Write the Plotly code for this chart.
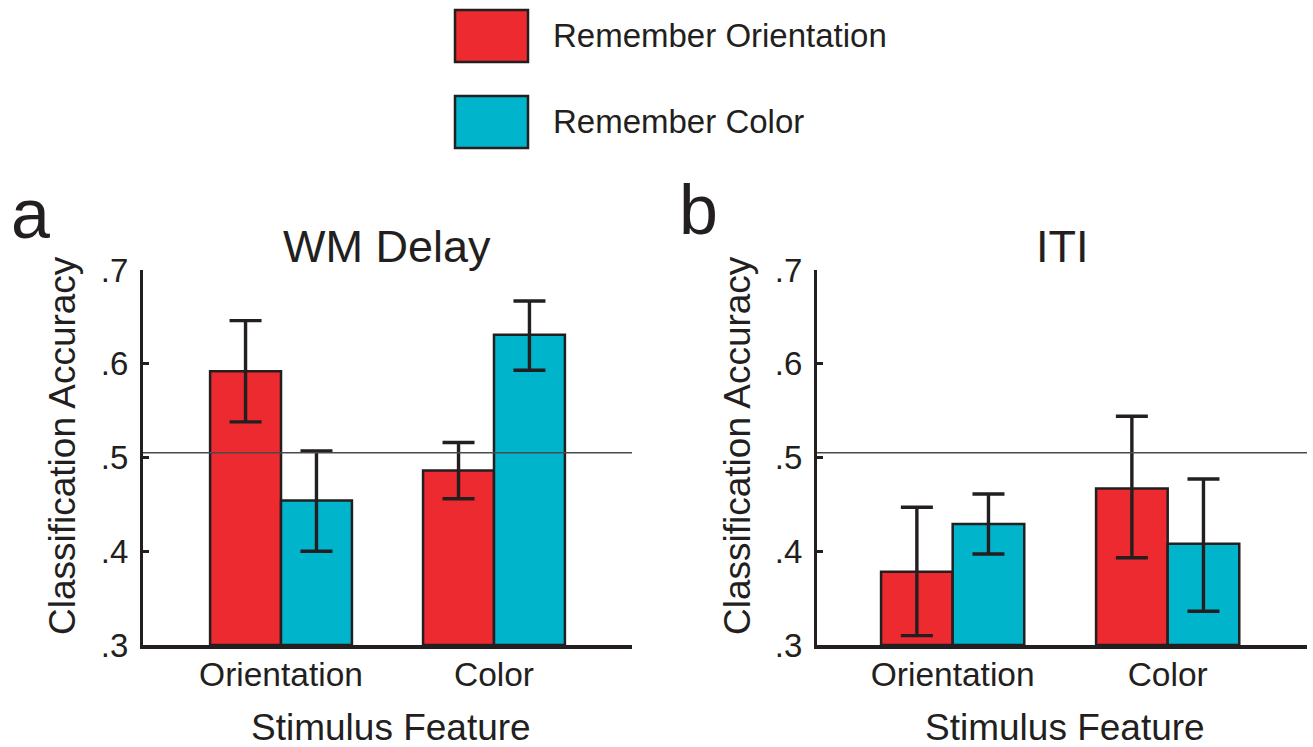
import plotly.graph_objects as go

# ---------------- data ----------------
categories = ["Orientation", "Color"]
series_names = ["Remember Orientation", "Remember Color"]

# Panel a: WM Delay
wm_orient_mean = [0.592, 0.486]
wm_orient_hi = [0.646, 0.516]
wm_orient_lo = [0.538, 0.456]
wm_color_mean = [0.454, 0.631]
wm_color_hi = [0.507, 0.667]
wm_color_lo = [0.400, 0.593]

# Panel b: ITI
iti_orient_mean = [0.378, 0.467]
iti_orient_hi = [0.447, 0.544]
iti_orient_lo = [0.310, 0.393]
iti_color_mean = [0.429, 0.408]
iti_color_hi = [0.461, 0.477]
iti_color_lo = [0.397, 0.336]

chance_level = 0.505
y_ticks = [0.3, 0.4, 0.5, 0.6, 0.7]
y_tick_labels = [".3", ".4", ".5", ".6", ".7"]
panel_titles = ["WM Delay", "ITI"]
panel_letters = ["a", "b"]
x_title = "Stimulus Feature"
y_title = "Classification Accuracy"

# ---------------- style ----------------
RED = "#EC2A30"
CYAN = "#00B4CC"
INK = "#231F20"
FONT = "Liberation Sans, Arial, Helvetica, sans-serif"
W, H = 1313, 747

fig = go.Figure()
xpos = list(range(len(categories)))


def add_bars(mean, hi, lo, color, name, xa, ya):
    fig.add_trace(go.Bar(
        x=xpos, y=[m - 0.3 for m in mean], base=0.3,
        name=name, marker=dict(color=color, line=dict(color=INK, width=2.5)),
        error_y=dict(type="data", symmetric=False,
                     array=[h - m for h, m in zip(hi, mean)],
                     arrayminus=[m - l for m, l in zip(mean, lo)],
                     color=INK, thickness=3.4, width=16),
        xaxis=xa, yaxis=ya, showlegend=False, offsetgroup=name,
    ))


add_bars(wm_orient_mean, wm_orient_hi, wm_orient_lo, RED, series_names[0], "x", "y")
add_bars(wm_color_mean, wm_color_hi, wm_color_lo, CYAN, series_names[1], "x", "y")
add_bars(iti_orient_mean, iti_orient_hi, iti_orient_lo, RED, series_names[0], "x2", "y2")
add_bars(iti_color_mean, iti_color_hi, iti_color_lo, CYAN, series_names[1], "x2", "y2")


def px_x(v):
    return v / W


def px_y(v):
    return 1 - v / H


ydom = [px_y(645), px_y(270)]
xdom1 = [px_x(143), px_x(632)]
xdom2 = [px_x(817), px_x(1307)]

yaxis_common = dict(
    range=[0.3, 0.7], tickvals=y_ticks, ticktext=y_tick_labels,
    showline=True, linecolor=INK, linewidth=3, ticks="inside", ticklen=6,
    tickwidth=2.5, tickcolor=INK, showgrid=False, zeroline=False,
    tickfont=dict(size=33, color=INK, family=FONT), ticklabelstandoff=5,
    domain=ydom,
)
xaxis_common = dict(
    tickvals=xpos, ticktext=categories, showline=True, linecolor=INK,
    linewidth=3.5, ticks="", showgrid=False, zeroline=False,
    tickfont=dict(size=33.5, color=INK, family=FONT), ticklabelstandoff=-3,
)

fig.update_layout(
    width=W, height=H, margin=dict(l=0, r=0, t=0, b=0, autoexpand=False),
    paper_bgcolor="white", plot_bgcolor="white",
    barmode="group", bargap=0.334, bargroupgap=0,
    font=dict(family=FONT, color=INK),
    xaxis=dict(xaxis_common, domain=xdom1, range=[-0.648, 1.648], anchor="y"),
    yaxis=dict(yaxis_common, anchor="x"),
    xaxis2=dict(xaxis_common, domain=xdom2, range=[-0.631, 1.648], anchor="y2"),
    yaxis2=dict(yaxis_common, anchor="x2"),
)

shapes = []
for xr, yr in [("x domain", "y"), ("x2 domain", "y2")]:
    shapes.append(dict(type="line", xref=xr, yref=yr, x0=0, x1=1,
                       y0=chance_level, y1=chance_level,
                       line=dict(color="#4a4a4a", width=1.6), layer="above"))

# legend boxes
for (y0, y1), col in zip([(10, 62), (96, 148)], [RED, CYAN]):
    shapes.append(dict(type="rect", xref="paper", yref="paper",
                       x0=px_x(455), x1=px_x(528), y0=px_y(y1), y1=px_y(y0),
                       fillcolor=col, line=dict(color=INK, width=2.5)))
fig.update_layout(shapes=shapes)

ann = []
# legend labels
for name, yc in zip(series_names, [35, 121]):
    ann.append(dict(text=name, x=px_x(551), y=px_y(yc), xref="paper", yref="paper",
                    xanchor="left", yanchor="middle", showarrow=False,
                    font=dict(size=33, color=INK, family=FONT)))

panels = [
    dict(title=panel_titles[0], tx=387, letter=panel_letters[0], lx=30, ly=214, ytx=62, xtx=391),
    dict(title=panel_titles[1], tx=1062, letter=panel_letters[1], lx=698, ly=210, ytx=737, xtx=1065),
]
for p in panels:
    ann.append(dict(text=p["title"], x=px_x(p["tx"]), y=px_y(246), xref="paper", yref="paper",
                    xanchor="center", yanchor="middle", showarrow=False,
                    font=dict(size=45, color=INK, family=FONT)))
    ann.append(dict(text=p["letter"], x=px_x(p["lx"]), y=px_y(p["ly"]), xref="paper", yref="paper",
                    xanchor="center", yanchor="middle", showarrow=False,
                    font=dict(size=70, color=INK, family=FONT)))
    ann.append(dict(text=y_title, x=px_x(p["ytx"]), y=px_y(446), xref="paper", yref="paper",
                    xanchor="center", yanchor="middle", showarrow=False, textangle=-90,
                    font=dict(size=37, color=INK, family=FONT)))
    ann.append(dict(text=x_title, x=px_x(p["xtx"]), y=px_y(727), xref="paper", yref="paper",
                    xanchor="center", yanchor="middle", showarrow=False,
                    font=dict(size=37, color=INK, family=FONT)))
fig.update_layout(annotations=ann)

fig.write_html(
    "out.html",
    config={"displayModeBar": False},
    post_script="document.body.style.margin='0';document.body.style.overflow='hidden';",
)
